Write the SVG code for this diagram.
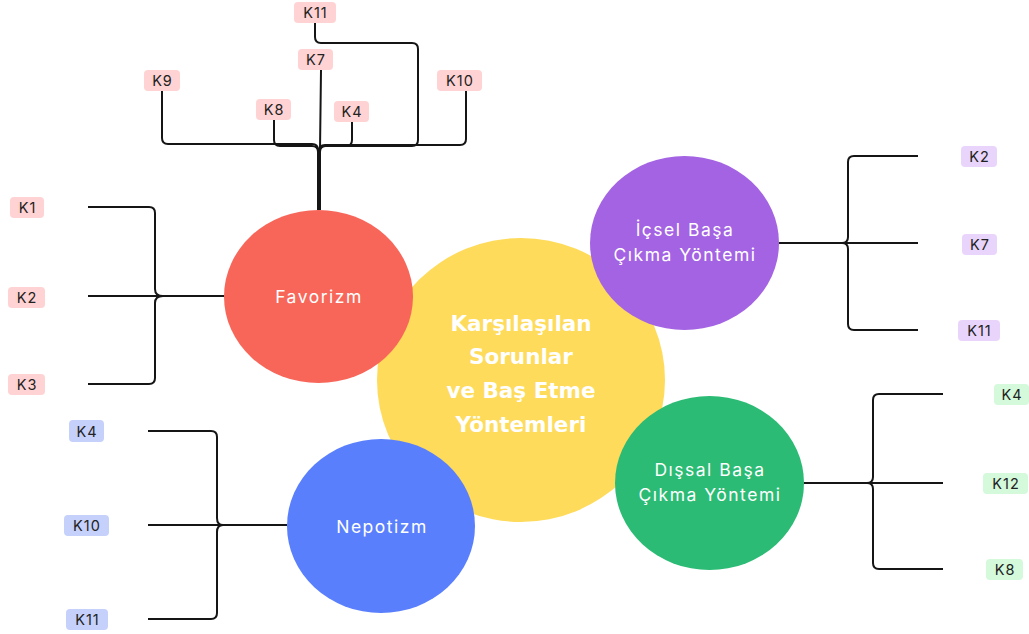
<svg xmlns="http://www.w3.org/2000/svg" width="1029" height="634" viewBox="0 0 1029 634">
<style>
.ln{fill:none;stroke:#151515;stroke-width:2;stroke-linejoin:round;stroke-linecap:butt}
.lbl{font-family:"Inter","Noto Sans",sans-serif;font-size:14.5px;letter-spacing:1px;fill:#222;text-anchor:middle;dominant-baseline:central}
.nt{font-family:"Inter","Noto Sans",sans-serif;font-size:17.5px;letter-spacing:1.5px;fill:#fff;text-anchor:middle;dominant-baseline:central}
.ct{font-family:"DejaVu Sans","Noto Sans",sans-serif;font-weight:bold;font-size:21.5px;fill:#fff;text-anchor:middle;dominant-baseline:central}
.pr{fill:#FFD3D3}.bl{fill:#C5D1FB}.pu{fill:#E9D5FB}.gr{fill:#D4F9DB}
</style>
<rect width="1029" height="634" fill="#fff"/>
<g id="connectors">
<path class="ln" d="M162,91 V138 Q162,144 168,144 H312 Q318,144 318,150 V210"/>
<path class="ln" d="M274,120 V140 Q274,146 280,146 H312 Q318,146 318,152 V210"/>
<path class="ln" d="M321,70 L320,150 L319,210"/>
<path class="ln" d="M352,122 V140 Q352,146 346,146 H325 Q319,146 319,152 V210"/>
<path class="ln" d="M315,23 V37 Q315,43 321,43 H412 Q418,43 418,49 V140 Q418,146 412,146 H326 Q320,146 320,152 V210"/>
<path class="ln" d="M466,91 V139 Q466,145 460,145 H325 Q319,145 319,151 V210"/>
<path class="ln" d="M88,207 H149 Q155,207 155,213 V289 Q155,296 163,296 Q155,296 155,303 V378 Q155,384 149,384 H88"/>
<path class="ln" d="M88,296 H224"/>
<path class="ln" d="M148,431 H211 Q217,431 217,437 V518 Q217,525 223,525 Q217,525 217,532 V613 Q217,619 211,619 H148"/>
<path class="ln" d="M148,525 H287"/>
<path class="ln" d="M918,156 H854 Q848,156 848,162 V237 Q848,243 842,243 Q848,243 848,249 V324 Q848,330 854,330 H918"/>
<path class="ln" d="M779,243 H918"/>
<path class="ln" d="M943,394 H879 Q873,394 873,400 V477 Q873,483 867,483 Q873,483 873,489 V563 Q873,569 879,569 H943"/>
<path class="ln" d="M804,483 H943"/>
</g>
<g id="center">
<ellipse cx="521" cy="380" rx="144" ry="142" fill="#FEDB5B"/>
<text class="ct" x="521" y="323">Karşılaşılan</text>
<text class="ct" x="521" y="356">Sorunlar</text>
<text class="ct" x="521" y="390">ve Baş Etme</text>
<text class="ct" x="521" y="424">Yöntemleri</text>
</g>
<g id="favorizm">
<ellipse cx="318.5" cy="296.5" rx="94.5" ry="86.5" fill="#F8665A"/>
<text class="nt" x="319" y="296">Favorizm</text>
</g>
<g id="nepotizm">
<ellipse cx="381" cy="526" rx="94" ry="87" fill="#5A7FFD"/>
<text class="nt" x="382" y="526">Nepotizm</text>
</g>
<g id="icsel">
<ellipse cx="684.5" cy="243" rx="94.5" ry="87" fill="#A363E3"/>
<text class="nt" x="685" y="229">İçsel Başa</text>
<text class="nt" x="685" y="254">Çıkma Yöntemi</text>
</g>
<g id="dissal">
<ellipse cx="709.5" cy="483" rx="94.5" ry="87" fill="#2BBB74"/>
<text class="nt" x="710" y="469">Dışsal Başa</text>
<text class="nt" x="710" y="494">Çıkma Yöntemi</text>
</g>
<g id="top-labels">
<rect class="pr" x="294" y="2" width="42" height="21" rx="4"/><text class="lbl" x="315.5" y="12.5">K11</text>
<rect class="pr" x="298" y="49" width="35" height="21" rx="4"/><text class="lbl" x="316" y="59.5">K7</text>
<rect class="pr" x="144" y="70" width="36" height="21" rx="4"/><text class="lbl" x="162.5" y="80.5">K9</text>
<rect class="pr" x="256" y="99" width="35" height="21" rx="4"/><text class="lbl" x="274" y="109.5">K8</text>
<rect class="pr" x="334" y="101" width="35" height="21" rx="4"/><text class="lbl" x="352" y="111.5">K4</text>
<rect class="pr" x="437" y="70" width="45" height="21" rx="4"/><text class="lbl" x="460" y="80.5">K10</text>
</g>
<g id="fav-labels">
<rect class="pr" x="10" y="197" width="34" height="21" rx="4"/><text class="lbl" x="27.5" y="207.5">K1</text>
<rect class="pr" x="8" y="287" width="37" height="21" rx="4"/><text class="lbl" x="27" y="297.5">K2</text>
<rect class="pr" x="8" y="374" width="37" height="21" rx="4"/><text class="lbl" x="27" y="384.5">K3</text>
</g>
<g id="nep-labels">
<rect class="bl" x="69" y="420" width="35" height="22" rx="4"/><text class="lbl" x="87" y="431">K4</text>
<rect class="bl" x="64" y="515" width="45" height="21" rx="4"/><text class="lbl" x="87" y="525.5">K10</text>
<rect class="bl" x="66" y="609" width="42" height="21" rx="4"/><text class="lbl" x="87.5" y="619.5">K11</text>
</g>
<g id="icsel-labels">
<rect class="pu" x="961" y="146" width="36" height="21" rx="4"/><text class="lbl" x="979.5" y="156.5">K2</text>
<rect class="pu" x="962" y="234" width="35" height="21" rx="4"/><text class="lbl" x="980" y="244.5">K7</text>
<rect class="pu" x="958" y="320" width="42" height="21" rx="4"/><text class="lbl" x="979.5" y="330.5">K11</text>
</g>
<g id="dissal-labels">
<rect class="gr" x="994" y="384" width="35" height="21" rx="4"/><text class="lbl" x="1012" y="394.5">K4</text>
<rect class="gr" x="983" y="473" width="45" height="21" rx="4"/><text class="lbl" x="1006" y="483.5">K12</text>
<rect class="gr" x="986" y="559" width="37" height="21" rx="4"/><text class="lbl" x="1005" y="569.5">K8</text>
</g>
</svg>
